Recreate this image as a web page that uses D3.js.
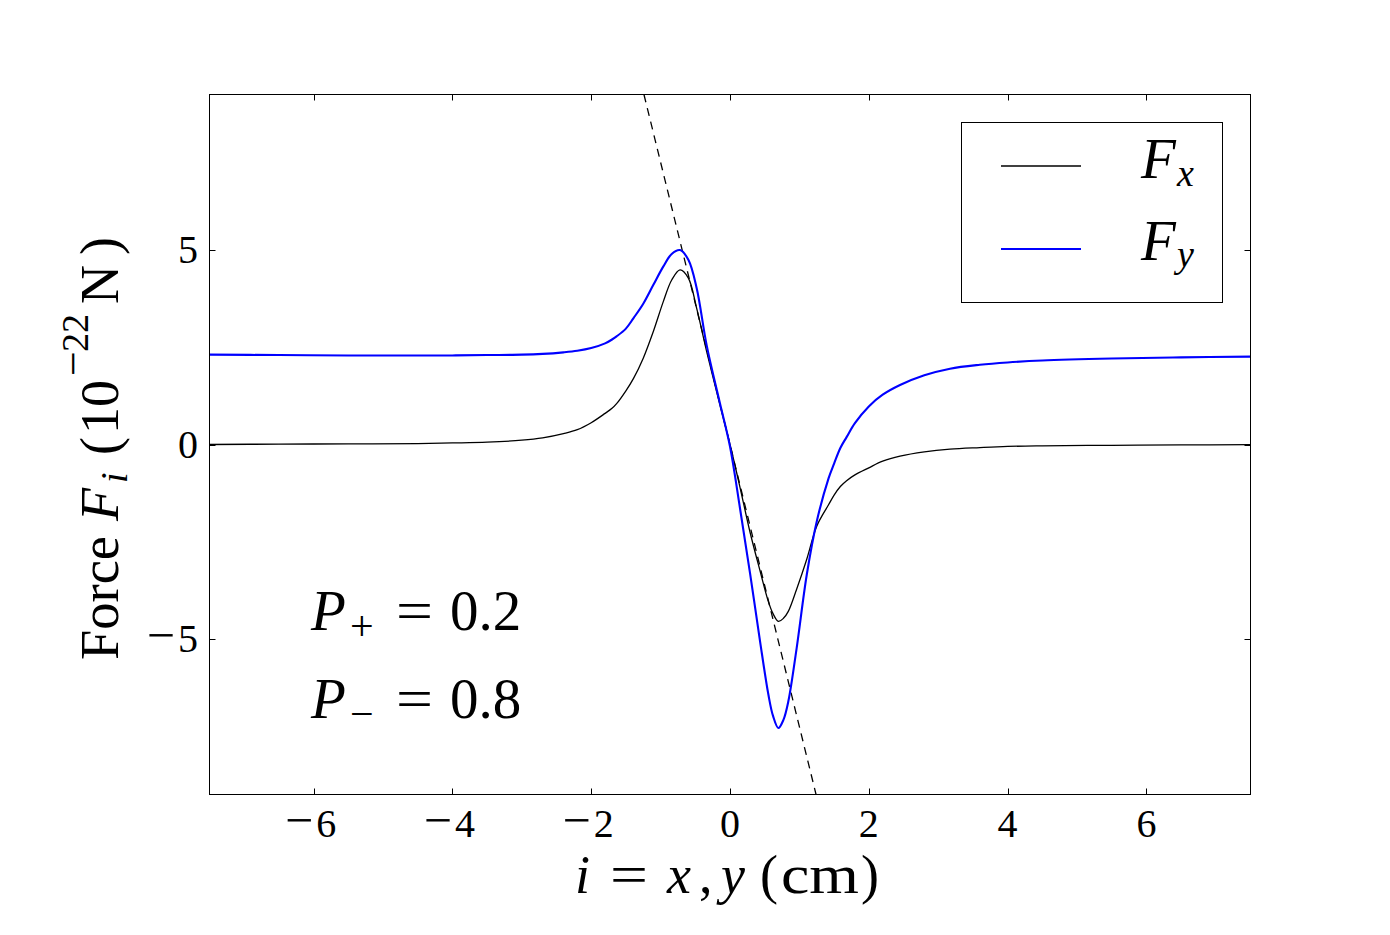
<!DOCTYPE html>
<html>
<head>
<meta charset="utf-8">
<script src="https://cdn.jsdelivr.net/npm/d3@7"></script>
<style>
  html, body { margin: 0; padding: 0; background: #fff; }
  svg { display: block; }
  text { font-family: "Liberation Serif", "DejaVu Serif", serif; fill: #000; }
</style>
</head>
<body>
<svg id="chart" width="1390" height="935"></svg>
<script>
// ---- data ----
const xPos = [-7.5, -6.5, -5.5, -4.5, -4, -3.5, -3, -2.7, -2.4, -2.2, -2.0, -1.8, -1.7, -1.634, -1.5, -1.39, -1.25, -1.106, -0.96, -0.84, -0.72, -0.6, -0.48, -0.336, -0.15, 0, 0.144, 0.288, 0.433, 0.553, 0.62, 0.697, 0.77, 0.84, 0.96, 1.106, 1.25, 1.42, 1.5, 1.59, 1.68, 1.8, 2.0, 2.2, 2.45, 2.8, 3.17, 3.6, 4, 4.5, 5.5, 6.5, 7.5];
const fxValues = [0.00, 0.01, 0.015, 0.025, 0.04, 0.06, 0.11, 0.17, 0.28, 0.38, 0.56, 0.80, 0.93, 1.05, 1.38, 1.70, 2.22, 2.90, 3.68, 4.23, 4.49, 4.28, 3.50, 2.39, 1.05, 0, -1.10, -2.25, -3.25, -4.04, -4.35, -4.55, -4.47, -4.29, -3.72, -2.95, -2.10, -1.55, -1.30, -1.08, -0.93, -0.78, -0.60, -0.43, -0.30, -0.19, -0.12, -0.08, -0.05, -0.035, -0.02, -0.01, -0.005];
const fyValues = [2.31, 2.30, 2.29, 2.29, 2.29, 2.30, 2.31, 2.33, 2.37, 2.41, 2.48, 2.60, 2.70, 2.78, 2.98, 3.25, 3.62, 4.10, 4.58, 4.90, 5.00, 4.75, 4.02, 2.55, 1.10, -0.05, -1.64, -3.30, -5.06, -6.43, -6.98, -7.29, -7.08, -6.61, -5.24, -3.35, -1.98, -0.87, -0.49, -0.09, 0.19, 0.55, 0.98, 1.28, 1.53, 1.78, 1.95, 2.05, 2.11, 2.16, 2.21, 2.24, 2.26];
const dashedX = [-1.24, 1.24];
const dashedY = [9.0, -9.0];
const xTicks = [-6, -4, -2, 0, 2, 4, 6];
const yTicks = [-5, 0, 5];
const seriesNames = ["x", "y"];
const seriesColors = ["#000000", "#0000ff"];

// ---- layout ----
const svg = d3.select("#chart");
const L = 209.5, R = 1250.5, T = 94.5, B = 794.5;
const x = d3.scaleLinear().domain([-7.5, 7.5]).range([L, R]);
const y = d3.scaleLinear().domain([-9, 9]).range([B, T]);

svg.append("defs").append("clipPath").attr("id", "plotclip")
  .append("rect").attr("x", L).attr("y", T).attr("width", R - L).attr("height", B - T);

function tickLabel(sel, v) {
  if (v < 0) {
    sel.append("tspan").attr("font-size", 50).text("\u2212");
    sel.append("tspan").attr("dx", 3).text(String(Math.abs(v)));
  } else {
    sel.append("tspan").text(String(v));
  }
}

// ticks (inside, all four sides)
const tickLen = 6;
const axisG = svg.append("g");
xTicks.forEach(t => {
  const px = Math.round(x(t)) + 0.5;
  axisG.append("line").attr("x1", px).attr("x2", px).attr("y1", B).attr("y2", B - tickLen).attr("stroke", "#000");
  axisG.append("line").attr("x1", px).attr("x2", px).attr("y1", T).attr("y2", T + tickLen).attr("stroke", "#000");
  const tx = axisG.append("text").attr("x", x(t) - (t < 0 ? 3 : 0)).attr("y", 837).attr("text-anchor", "middle")
    .attr("font-size", 40);
  tickLabel(tx, t);
});
yTicks.forEach(t => {
  const py = Math.round(y(t)) + 0.5;
  axisG.append("line").attr("x1", L).attr("x2", L + tickLen).attr("y1", py).attr("y2", py).attr("stroke", "#000");
  axisG.append("line").attr("x1", R).attr("x2", R - tickLen).attr("y1", py).attr("y2", py).attr("stroke", "#000");
  const ty = axisG.append("text").attr("x", 198).attr("y", y(t) + 13).attr("text-anchor", "end")
    .attr("font-size", 40);
  tickLabel(ty, t);
});

// data lines
const plot = svg.append("g").attr("clip-path", "url(#plotclip)");
const line = d3.line().x(d => x(d[0])).y(d => y(d[1])).curve(d3.curveCatmullRom.alpha(0.5));

plot.append("path")
  .datum(dashedX.map((v, i) => [v, dashedY[i]]))
  .attr("d", d3.line().x(d => x(d[0])).y(d => y(d[1])))
  .attr("fill", "none").attr("stroke", "#000").attr("stroke-width", 1.3)
  .attr("stroke-dasharray", "8,6");

plot.append("path")
  .datum(xPos.map((v, i) => [v, fxValues[i]]))
  .attr("d", line)
  .attr("fill", "none").attr("stroke", seriesColors[0]).attr("stroke-width", 1.3);

plot.append("path")
  .datum(xPos.map((v, i) => [v, fyValues[i]]))
  .attr("d", line)
  .attr("fill", "none").attr("stroke", seriesColors[1]).attr("stroke-width", 2.1);

// frame
svg.append("rect").attr("x", L).attr("y", T).attr("width", R - L).attr("height", B - T)
  .attr("fill", "none").attr("stroke", "#000").attr("stroke-width", 1);

// helper to place a text piece
function piece(parent, txt, px, py, size, opts) {
  opts = opts || {};
  const t = parent.append("text").attr("x", px).attr("y", py).attr("font-size", size).text(txt);
  if (opts.italic) t.attr("font-style", "italic");
  if (opts.len) t.attr("textLength", opts.len).attr("lengthAdjust", "spacingAndGlyphs");
  return t;
}

// x axis label: i = x, y (cm)
const xl = svg.append("g");
piece(xl, "i", 575, 893, 54, { italic: true });
piece(xl, "=", 610, 893, 54, { len: 38 });
piece(xl, "x", 667, 893, 54, { italic: true });
piece(xl, ",", 699, 893, 54);
piece(xl, "y", 721, 893, 54, { italic: true });
piece(xl, "(", 760, 893, 54);
piece(xl, "cm", 781, 893, 54, { len: 78 });
piece(xl, ")", 861, 893, 54);

// y axis label (rotated): Force F_i (10^-22 N)
const yl = svg.append("g").attr("transform", "rotate(-90)");
piece(yl, "Force", -660, 118, 54, { len: 124 });
piece(yl, "F", -521, 118, 54, { italic: true });
piece(yl, "i", -483, 127, 38, { italic: true });
piece(yl, "(", -455, 118, 54);
piece(yl, "10", -434, 118, 54);
piece(yl, "\u2212", -376, 88, 44);
piece(yl, "22", -352, 88, 38);
piece(yl, "N", -304, 118, 54);
piece(yl, ")", -255, 118, 54);

// legend
const lg = svg.append("g");
lg.append("rect").attr("x", 961.5).attr("y", 122.5).attr("width", 261).attr("height", 180)
  .attr("fill", "#fff").attr("stroke", "#000").attr("stroke-width", 1);
const legendY = [166, 249];
const legendBase = [178, 260];
const legendSub = [186, 267];
seriesNames.forEach((n, i) => {
  lg.append("line").attr("x1", 1001).attr("x2", 1081).attr("y1", legendY[i]).attr("y2", legendY[i])
    .attr("stroke", seriesColors[i]).attr("stroke-width", i === 0 ? 1.3 : 2.1);
  piece(lg, "F", 1141, legendBase[i], 57, { italic: true });
  piece(lg, n, 1177, legendSub[i], 38, { italic: true });
});

// annotations
const annSub = ["+", "\u2212"];
const annVal = ["0.2", "0.8"];
const annBase = [630, 718];
const ag = svg.append("g");
annSub.forEach((s, i) => {
  piece(ag, "P", 311, annBase[i], 57, { italic: true });
  piece(ag, s, 350, annBase[i] + 10, 42);
  piece(ag, "=", 396, annBase[i], 57, { len: 37 });
  piece(ag, annVal[i], 450, annBase[i], 57);
});
</script>
</body>
</html>
